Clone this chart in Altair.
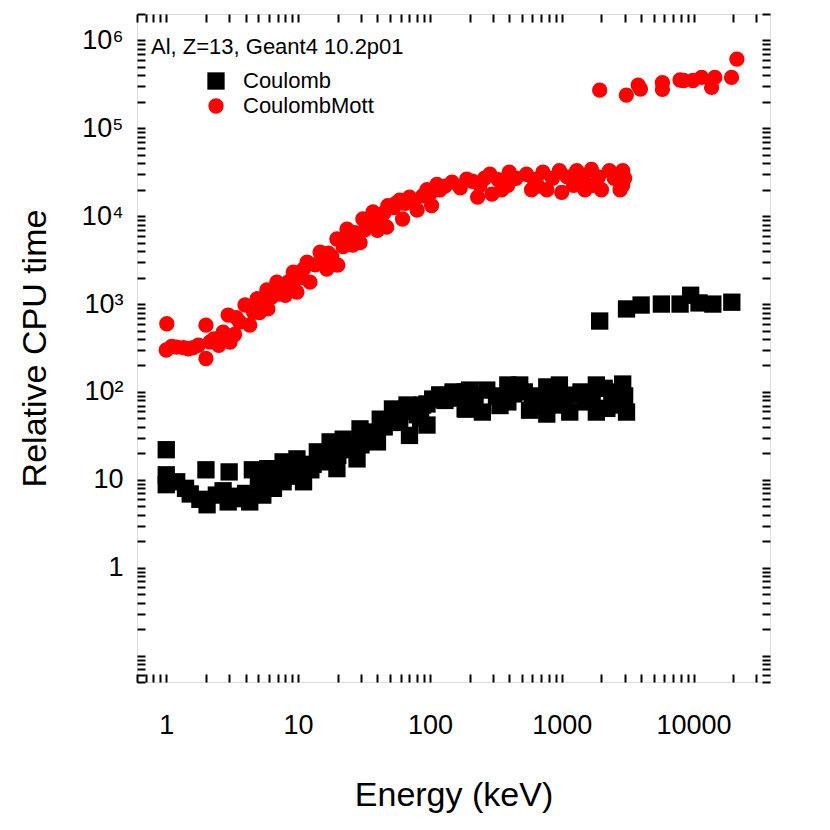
import altair as alt
import pandas as pd

# ---- data ----
models = ["Coulomb", "CoulombMott"]

coul_E = [1, 1, 1, 1.2, 1.52, 2, 2.04, 2.4, 3, 2.95, 3.6, 4.5, 4.3, 5.4, 5.9, 7.7, 7.7, 9.8, 11, 14,
          16.5, 19.7, 17.5, 22, 28, 29.5, 40, 42, 52, 59, 70, 67, 88, 95, 105, 119, 150, 185, 185, 95,
          119, 150, 190, 200, 250, 270, 390, 390, 480, 570, 600, 770, 770, 920, 960, 1150, 1300, 1530, 1830, 1830,
          2400, 2770, 2900, 3100, 6.5, 8.5, 12.5, 25, 33, 45, 80, 1940, 3100, 4000, 5700, 7900, 9500, 11000,
          14000, 19500,
          130, 170, 220, 320, 430, 520, 680, 850, 1050, 1400, 1700, 2100, 2600, 3000, 340, 700, 1000, 2200,
          1.4, 1.8, 2.7, 3.3, 4, 5, 6, 7, 9, 10, 13, 15, 20, 24, 30, 35, 50, 60, 75, 85]
coul_T = [22, 11.4, 8.8, 9.5, 6.9, 13, 5.2, 6.7, 12.3, 5.6, 6.1, 13, 5.6, 6.7, 13.4, 9.5, 16, 17.3, 9.5, 20.8,
          16, 13.4, 27, 29, 17.3, 38, 27, 49, 64, 45, 32, 71, 71, 42, 83, 92, 100, 64, 100, 73,
          92, 95, 64, 105, 59, 105, 77, 120, 120, 62, 83, 56, 114, 71, 120, 59, 92, 77, 59, 120,
          92, 71, 123, 59, 8, 11, 13, 22, 30, 40, 55, 641, 880, 975, 1000, 1000, 1260, 1030,
          1000, 1050,
          80, 85, 90, 90, 95, 100, 90, 95, 90, 100, 90, 110, 100, 90, 70, 70, 75, 65,
          8, 6, 7.5, 6.5, 7, 9, 11, 12, 13, 14, 15, 20, 19, 25, 25, 35, 45, 60, 60, 50]

mott_E = [1.01, 1.0, 1.2, 1.47, 1.75, 2.0, 2.0, 2.15, 2.5, 2.95, 3.05, 2.7, 3.6, 3.96, 4.3, 4.9, 5.9, 5.8, 5.1, 6.9,
          8, 9.2, 9.8, 11.7, 12.3, 14.7, 16.5, 20, 19.7, 23.5, 26, 29.5, 31, 37, 40, 48, 47, 59, 62, 70,
          80, 95, 103, 113, 119, 147, 190, 230, 240, 285, 295, 390, 400, 540, 590, 720, 770, 960, 1000, 1230,
          1300, 1680, 1720, 2000, 2300, 2770, 2900, 2900, 1940, 3090, 3800, 3950, 5800, 5800, 7900, 8400, 9900, 11500,
          13700, 14500, 19400, 21300,
          7.5, 10.5, 13.5, 18, 22, 27, 34, 43, 53, 65, 88,
          130, 170, 210, 260, 330, 450, 620, 850, 1100, 1450, 1900, 2500, 3000, 350, 660, 1500,
          1.1, 1.35, 1.6, 2.3, 2.6, 3.3, 3.4, 4.6, 5.5, 6.3, 7.2, 8.5, 10, 11, 15, 17, 24, 28, 32, 38,
          45, 55, 75, 100]
mott_T = [597, 300, 324, 310, 340, 575, 240, 370, 340, 750, 370, 480, 625, 975, 575, 1150, 880, 1450, 800, 1780,
          1260, 2300, 1370, 3000, 1780, 3900, 2500, 2770, 5500, 7100, 4700, 5000, 9300, 11200, 6900, 13200, 7500, 15200, 9300, 16500,
          11700, 20000, 13200, 23000, 20000, 24400, 26400, 16500, 22500, 30000, 17800, 22500, 31600, 30000, 20000, 31600, 20000, 33000, 18700, 22500,
          33000, 34000, 22500, 20000, 33000, 20000, 33000, 22500, 272000, 239000, 310000, 280000, 330000, 277000, 355000, 350000, 350000, 380000,
          292000, 380000, 380000, 614000,
          1500, 2000, 2800, 3500, 4500, 6500, 8000, 10000, 12500, 14000, 17000,
          22000, 21000, 25000, 27000, 26000, 27000, 26000, 27000, 28000, 27000, 28000, 27000, 27000, 20000, 22000, 20000,
          330, 320, 320, 400, 420, 450, 700, 800, 1000, 1200, 1300, 1800, 2000, 2500, 3000, 3800, 5500, 6000, 7000, 9000,
          11000, 14000, 15000, 18000]

x_labels = [1, 10, 100, 1000, 10000]
y_labels = [1, 10, 100, 1000, 10000, 100000, 1000000]
header = "Al, Z=13, Geant4 10.2p01"

df = pd.DataFrame({
    "Energy": coul_E + mott_E,
    "Time": coul_T + mott_T,
    "Model": [models[0]] * len(coul_E) + [models[1]] * len(mott_E),
})


def log_ticks(lo, hi):
    out = []
    for d in range(-3, 8):
        for m in range(1, 10):
            v = m * (10.0 ** d)
            if lo <= v <= hi:
                out.append(v)
    return out


X_DOM = [0.6, 38000]
Y_DOM = [0.05, 2e6]
x_ticks = log_ticks(*X_DOM)
y_ticks = log_ticks(*Y_DOM)

x_scale = alt.Scale(type="log", domain=X_DOM, nice=False)
y_scale = alt.Scale(type="log", domain=Y_DOM, nice=False)

FONT = "Liberation Sans"


def tick_axis(orient, values):
    return alt.Axis(orient=orient, values=values, labels=False, domain=False, grid=False,
                    ticks=True, tickSize=8, tickWidth=2, tickColor="black", offset=-8, title=None)


x_lab_axis = alt.Axis(orient="bottom", values=x_labels, format="d", ticks=False, tickSize=0, domain=False,
                      grid=False, labelFontSize=27, labelColor="black", labelPadding=30, labelFont=FONT,
                      title="Energy (keV)", titleFontSize=34, titleFontWeight="normal", titleFont=FONT,
                      titleColor="black", titleBaseline="middle", titleY=113)

y_expr = ("datum.value == 1000000 ? '10⁶' : datum.value == 100000 ? '10⁵' : datum.value == 10000 ? '10⁴' : "
          "datum.value == 1000 ? '10³' : datum.value == 100 ? '10²' : datum.value == 10 ? '10' : '1'")
y_lab_axis = alt.Axis(orient="left", values=y_labels, labelExpr=y_expr, ticks=False, tickSize=0, domain=False,
                      grid=False, labelFontSize=27, labelColor="black", labelPadding=14, labelFont=FONT,
                      title="Relative CPU time", titleFontSize=34, titleFontWeight="normal", titleFont=FONT,
                      titleColor="black", titleBaseline="middle", titleX=-102, titleY=334, titleAngle=270)

legend = alt.Legend(orient="none", legendX=68, legendY=56, title=None, labelFontSize=22, labelFont=FONT,
                    labelColor="black", symbolSize=120, symbolStrokeWidth=0, rowPadding=3, labelOffset=16)

base = alt.Chart(df)

points = base.mark_point(filled=True, opacity=1, strokeWidth=0).encode(
    x=alt.X("Energy:Q", scale=x_scale, axis=x_lab_axis),
    y=alt.Y("Time:Q", scale=y_scale, axis=y_lab_axis),
    color=alt.Color("Model:N", scale=alt.Scale(domain=models, range=["black", "red"]), legend=legend),
    shape=alt.Shape("Model:N", scale=alt.Scale(domain=models, range=["square", "circle"]), legend=legend),
    size=alt.Size("Model:N", scale=alt.Scale(domain=models, range=[300, 235]), legend=None),
)

ticks_bl = base.mark_point(opacity=0).encode(
    x=alt.X("Energy:Q", scale=x_scale, axis=tick_axis("bottom", x_ticks)),
    y=alt.Y("Time:Q", scale=y_scale, axis=tick_axis("left", y_ticks)),
)

ticks_tr = base.mark_point(opacity=0).encode(
    x=alt.X("Energy:Q", scale=x_scale, axis=tick_axis("top", x_ticks)),
    y=alt.Y("Time:Q", scale=y_scale, axis=tick_axis("right", y_ticks)),
)

head = alt.Chart(pd.DataFrame({"t": [header]})).mark_text(
    align="left", baseline="middle", fontSize=22, font=FONT, color="black"
).encode(x=alt.value(14), y=alt.value(33), text="t:N")

chart = alt.layer(points, ticks_bl, ticks_tr, head).resolve_axis(
    x="independent", y="independent"
).properties(
    width=633, height=668,
    autosize=alt.AutoSizeParams(type="none"),
    padding={"left": 129, "top": 6, "right": 52, "bottom": 140},
).configure_view(stroke="black", strokeWidth=2.5).configure(font=FONT)

chart.save("out.html", embed_options={"renderer": "svg", "actions": False})
